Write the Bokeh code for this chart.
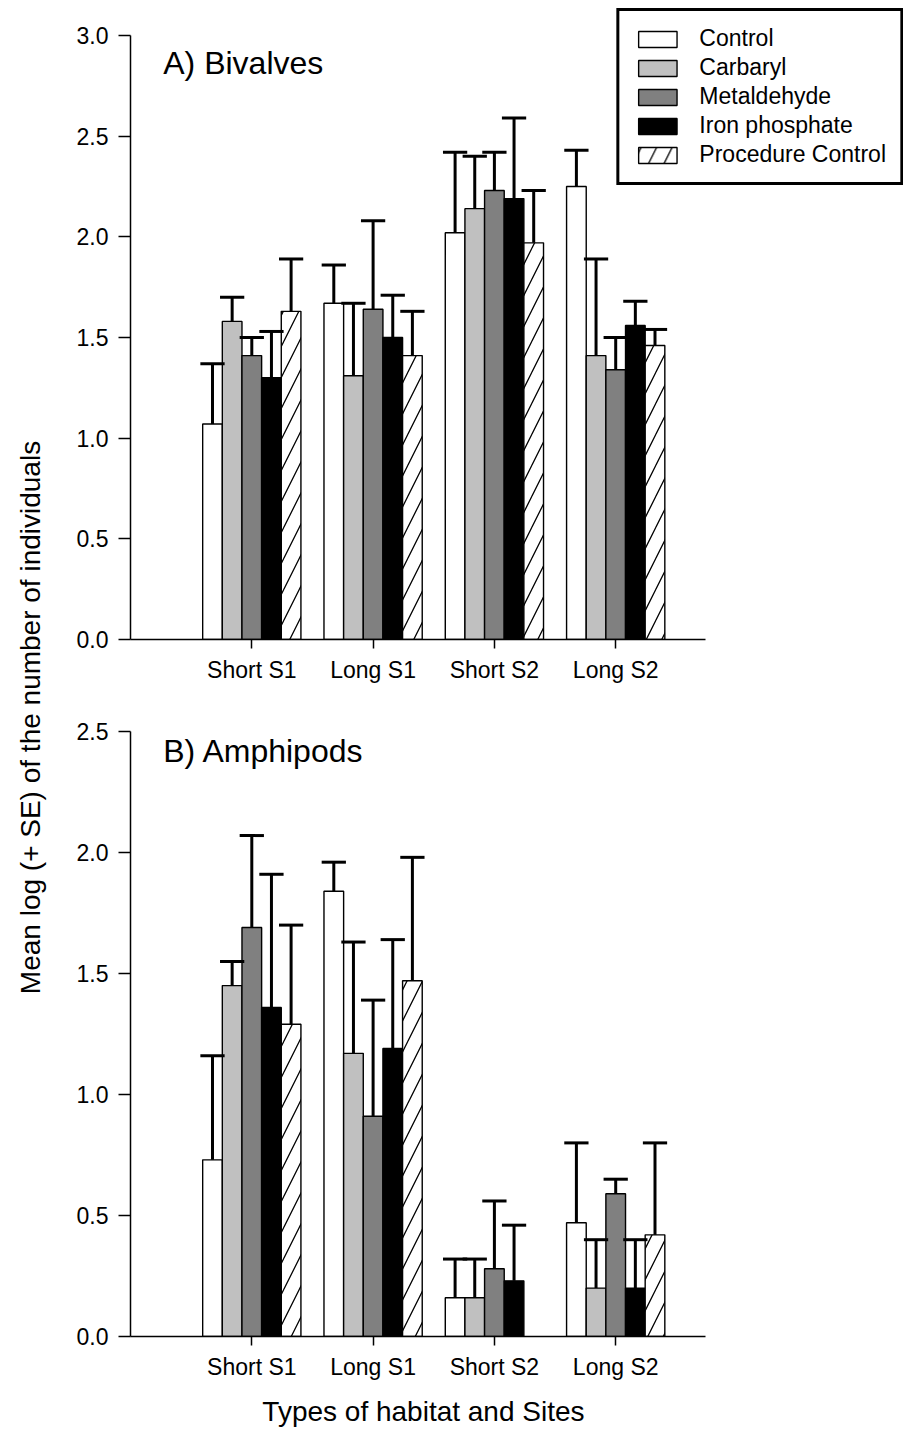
import math
from bokeh.plotting import figure
from bokeh.models import Range1d, FixedTicker, PrintfTickFormatter, ColumnDataSource, Label
from bokeh.layouts import row, column
from bokeh.embed import file_html
from bokeh.resources import INLINE
from bokeh.core.properties import value

# ---------------- data ----------------
sites = ["Short S1", "Long S1", "Short S2", "Long S2"]
treatments = ["Control", "Carbaryl", "Metaldehyde", "Iron phosphate", "Procedure Control"]

# A) Bivalves: means and SE
biv_control = [1.07, 1.67, 2.02, 2.25]
biv_control_se = [0.30, 0.19, 0.40, 0.18]
biv_carbaryl = [1.58, 1.31, 2.14, 1.41]
biv_carbaryl_se = [0.12, 0.36, 0.26, 0.48]
biv_metaldehyde = [1.41, 1.64, 2.23, 1.34]
biv_metaldehyde_se = [0.09, 0.44, 0.19, 0.16]
biv_iron = [1.30, 1.50, 2.19, 1.56]
biv_iron_se = [0.23, 0.21, 0.40, 0.12]
biv_procedure = [1.63, 1.41, 1.97, 1.46]
biv_procedure_se = [0.26, 0.22, 0.26, 0.08]

# B) Amphipods: means and SE
amp_control = [0.73, 1.84, 0.16, 0.47]
amp_control_se = [0.43, 0.12, 0.16, 0.33]
amp_carbaryl = [1.45, 1.17, 0.16, 0.20]
amp_carbaryl_se = [0.10, 0.46, 0.16, 0.20]
amp_metaldehyde = [1.69, 0.91, 0.28, 0.59]
amp_metaldehyde_se = [0.38, 0.48, 0.28, 0.06]
amp_iron = [1.36, 1.19, 0.23, 0.20]
amp_iron_se = [0.55, 0.45, 0.23, 0.20]
amp_procedure = [1.29, 1.47, 0.0, 0.42]
amp_procedure_se = [0.41, 0.51, 0.0, 0.38]

biv_ticks = [0.0, 0.5, 1.0, 1.5, 2.0, 2.5, 3.0]
amp_ticks = [0.0, 0.5, 1.0, 1.5, 2.0, 2.5]

y_label = "Mean log (+ SE) of the number of individuals"
x_label = "Types of habitat and Sites"

# ---------------- style ----------------
FONT = "Liberation Sans"
fills = ["#ffffff", "#c0c0c0", "#808080", "#000000", "#ffffff"]
hatches = [None, None, None, None, "/"]
BAR_W = 0.162
CAP_W = 0.2
PX_PER_UNIT = 121.3
FRAME_W = 773
X_AXIS_END = 4.74


def make_panel(series, ymax_axis, ymax_range, ticks, title, title_y, frame_h, b_top, b_bottom,
               legend):
    p = figure(frame_width=FRAME_W, frame_height=frame_h,
               x_range=Range1d(0, FRAME_W / PX_PER_UNIT), y_range=Range1d(0, ymax_range),
               output_backend="svg", toolbar_location=None,
               min_border_left=72, min_border_right=0,
               min_border_top=b_top, min_border_bottom=b_bottom)
    p.outline_line_color = None
    p.xgrid.visible = False
    p.ygrid.visible = False
    p.background_fill_color = "white"

    err_x, err_lo, err_hi = [], [], []
    for j, (means, ses) in enumerate(series):
        xs = [i + 1 + (j - 2) * BAR_W for i in range(len(sites))]
        keep = [k for k in range(len(sites)) if means[k] > 0]
        src = ColumnDataSource(dict(x=[xs[k] for k in keep], top=[means[k] for k in keep]))
        kw = dict(x="x", top="top", width=BAR_W, source=src,
                  fill_color=fills[j], line_color="black", line_width=1.4)
        if hatches[j]:
            kw.update(hatch_pattern=hatches[j], hatch_scale=31, hatch_weight=1.3,
                      hatch_color="black")
        if legend:
            kw["legend_label"] = treatments[j]
        p.vbar(**kw)
        for k in keep:
            err_x.append(xs[k])
            err_lo.append(means[k])
            err_hi.append(means[k] + ses[k])

    esrc = ColumnDataSource(dict(x=err_x, lo=err_lo, hi=err_hi,
                                 x0=[x - CAP_W / 2 for x in err_x],
                                 x1=[x + CAP_W / 2 for x in err_x]))
    p.segment(x0="x", y0="lo", x1="x", y1="hi", source=esrc, line_color="black", line_width=3)
    p.segment(x0="x0", y0="hi", x1="x1", y1="hi", source=esrc, line_color="black", line_width=3)

    p.add_layout(Label(x=0.27, y=title_y, text=title, text_font=FONT,
                       text_font_size="32px", text_color="black", text_baseline="alphabetic"))

    # axes
    p.xaxis.ticker = FixedTicker(ticks=[1, 2, 3, 4])
    p.xaxis.major_label_overrides = {i + 1: s for i, s in enumerate(sites)}
    p.xaxis.bounds = (0, X_AXIS_END)
    p.yaxis.ticker = FixedTicker(ticks=ticks)
    p.yaxis.formatter = PrintfTickFormatter(format="%.1f")
    p.yaxis.bounds = (0, ymax_axis)
    for ax in (p.xaxis[0], p.yaxis[0]):
        ax.axis_line_color = "black"
        ax.axis_line_width = 1.5
        ax.major_tick_line_color = "black"
        ax.major_tick_line_width = 1.5
        ax.minor_tick_line_color = None
        ax.major_tick_in = 0
        ax.major_label_text_font = FONT
        ax.major_label_text_font_size = "23px"
        ax.major_label_text_color = "black"
    p.xaxis.major_tick_out = 9
    p.yaxis.major_tick_out = 12
    p.xaxis.major_label_standoff = 8
    p.yaxis.major_label_standoff = 10

    if legend:
        lg = p.legend[0]
        lg.location = "top_right"
        lg.margin = 0
        lg.border_line_color = "black"
        lg.border_line_alpha = 1.0
        lg.border_line_width = 3
        lg.background_fill_color = "white"
        lg.background_fill_alpha = 1
        lg.label_text_font = FONT
        lg.label_text_font_size = "23px"
        lg.label_text_color = "black"
        lg.glyph_width = 48
        lg.glyph_height = 20
        lg.label_height = 20
        lg.spacing = 2
        lg.padding = 14
        lg.label_standoff = 18
    return p


pA = make_panel([(biv_control, biv_control_se), (biv_carbaryl, biv_carbaryl_se),
                 (biv_metaldehyde, biv_metaldehyde_se), (biv_iron, biv_iron_se),
                 (biv_procedure, biv_procedure_se)],
                3.0, 3.0 * 631 / 604, biv_ticks, "A) Bivalves", 2.865, 631, 8, 61, True)
pB = make_panel([(amp_control, amp_control_se), (amp_carbaryl, amp_carbaryl_se),
                 (amp_metaldehyde, amp_metaldehyde_se), (amp_iron, amp_iron_se),
                 (amp_procedure, amp_procedure_se)],
                2.5, 2.5, amp_ticks, "B) Amphipods", 2.42, 605, 31, 45, False)

# side figure carrying the shared y-axis title
pL = figure(width=58, height=1430, x_range=Range1d(0, 58), y_range=Range1d(0, 1430),
            output_backend="svg", toolbar_location=None, min_border=0)
pL.axis.visible = False
pL.grid.visible = False
pL.outline_line_color = None
pL.text(x=[30], y=[713], text=[y_label], angle=math.pi / 2, text_align="center",
        text_baseline="middle", text_font=value(FONT), text_font_size="28px",
        text_color="black")

# bottom strip carrying the x-axis title, same horizontal geometry as the panels
pX = figure(frame_width=FRAME_W, frame_height=49,
            x_range=Range1d(0, FRAME_W / PX_PER_UNIT), y_range=Range1d(0, 49),
            output_backend="svg", toolbar_location=None,
            min_border_left=72, min_border_right=0, min_border_top=0, min_border_bottom=0)
pX.axis.visible = False
pX.grid.visible = False
pX.outline_line_color = None
pX.text(x=[X_AXIS_END / 2 + 0.045], y=[20], text=[x_label], text_align="center",
        text_baseline="middle", text_font=value(FONT), text_font_size="28px",
        text_color="black")

layout = row(pL, column(pA, pB, pX))
open("out.html", "w").write(file_html(layout, INLINE))
